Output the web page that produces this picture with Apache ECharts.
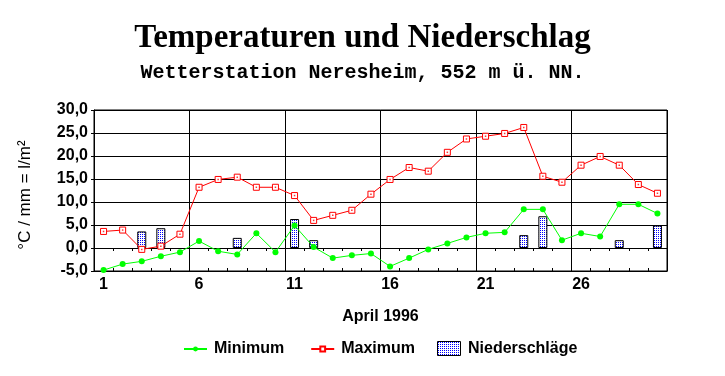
<!DOCTYPE html>
<html>
<head>
<meta charset="utf-8">
<script src="https://cdn.jsdelivr.net/npm/echarts@6/dist/echarts.min.js"></script>
<style>
html,body{margin:0;padding:0;background:#fff;}
#chart{width:725px;height:376px;}
</style>
</head>
<body>
<div id="chart"></div>
<script>
var days = ['1','2','3','4','5','6','7','8','9','10','11','12','13','14','15','16','17','18','19','20','21','22','23','24','25','26','27','28','29','30'];
var minimum = [-4.8, -3.5, -2.9, -1.8, -0.9, 1.5, -0.7, -1.4, 3.2, -0.9, 4.9, 0.2, -2.2, -1.6, -1.2, -4.0, -2.2, -0.3, 1.0, 2.3, 3.2, 3.4, 8.4, 8.4, 1.7, 3.2, 2.5, 9.5, 9.5, 7.5];
var maximum = [3.6, 3.9, -0.3, 0.4, 3.0, 13.2, 14.9, 15.4, 13.2, 13.2, 11.4, 6.0, 7.1, 8.2, 11.7, 14.9, 17.5, 16.7, 20.8, 23.7, 24.3, 24.9, 26.2, 15.6, 14.3, 18.0, 19.9, 18.0, 13.8, 11.9];
var niederschlag = [null, null, 3.6, 4.3, null, null, null, 2.2, null, null, 6.3, 1.7, null, null, null, null, null, null, null, null, null, null, 2.8, 6.9, null, null, null, 1.7, null, 4.9];
var yTicks = {min: -5, max: 30, interval: 5};

var pc = document.createElement('canvas');
pc.width = 2; pc.height = 2;
var pctx = pc.getContext('2d');
pctx.fillStyle = '#ffffff'; pctx.fillRect(0, 0, 2, 2);
pctx.fillStyle = '#0000ff'; pctx.fillRect(0, 0, 1, 1);
var pattern = {image: pc, repeat: 'repeat'};

var font = 'Liberation Sans, Arial, sans-serif';
var chart = echarts.init(document.getElementById('chart'), null, {renderer: 'canvas'});
chart.setOption({
  animation: false,
  backgroundColor: '#ffffff',
  title: [
    {text: 'Temperaturen und Niederschlag', left: 'center', top: 17,
     textStyle: {fontFamily: 'Liberation Serif, Times New Roman, serif', fontWeight: 'bold', fontSize: 33, color: '#000'}},
    {text: 'Wetterstation Neresheim, 552 m ü. NN.', left: 'center', top: 58,
     textStyle: {fontFamily: 'Liberation Mono, Courier New, monospace', fontWeight: 'bold', fontSize: 20, color: '#000'}}
  ],
  grid: {left: 94, right: 58, top: 110, bottom: 105, show: true, borderColor: '#000', borderWidth: 1, backgroundColor: 'transparent'},
  legend: [
    {left: 178, top: 336, itemWidth: 23, itemHeight: 6, itemGap: 26,
     data: ['Minimum', 'Maximum'],
     textStyle: {fontFamily: font, fontWeight: 'bold', fontSize: 16, color: '#000', padding: [0, 0, 0, 2]},
     selectedMode: false}
  ],
  graphic: [
    {type: 'text', x: 380.5, y: 309, style: {text: 'April 1996', fontFamily: font, fontWeight: 'bold', fontSize: 16, fill: '#000', textAlign: 'center'}},
    {type: 'text', x: 17, y: 195, rotation: Math.PI / 2, style: {text: '°C / mm = l/m²', fontFamily: font, fontSize: 17, fill: '#000', textAlign: 'center', textVerticalAlign: 'top'}},
    {type: 'rect', shape: {x: 437.5, y: 341.5, width: 23, height: 14}, style: {fill: pattern, stroke: '#000', lineWidth: 1}},
    {type: 'text', x: 468, y: 348.5, style: {text: 'Niederschläge', fontFamily: font, fontWeight: 'bold', fontSize: 16, fill: '#000', textVerticalAlign: 'middle'}}
  ],
  xAxis: [
    {type: 'category', data: days, boundaryGap: true, position: 'bottom',
     axisLine: {show: true, onZero: false, lineStyle: {color: '#000', width: 1}},
     axisTick: {show: false},
     axisLabel: {interval: 4, margin: 6, fontFamily: font, fontWeight: 'bold', fontSize: 16, color: '#000'},
     splitLine: {show: true, interval: 4, lineStyle: {color: '#000', width: 1}}},
    {type: 'category', data: days, boundaryGap: true, position: 'bottom',
     axisLine: {show: true, onZero: true, lineStyle: {color: '#000', width: 1}},
     axisTick: {show: true, interval: 0, length: 3, inside: false, lineStyle: {color: '#000'}},
     axisLabel: {show: false}, splitLine: {show: false}},
    {type: 'category', data: days, boundaryGap: true, position: 'bottom',
     axisLine: {show: true, onZero: true, lineStyle: {color: '#000', width: 1}},
     axisTick: {show: true, interval: 0, length: 3, inside: true, lineStyle: {color: '#000'}},
     axisLabel: {show: false}, splitLine: {show: false}}
  ],
  yAxis: {
    type: 'value', min: yTicks.min, max: yTicks.max, interval: yTicks.interval,
    axisLine: {show: true, lineStyle: {color: '#000', width: 1}},
    axisTick: {show: true, length: 3, lineStyle: {color: '#000'}},
    axisLabel: {margin: 6, fontFamily: font, fontWeight: 'bold', fontSize: 16, color: '#000',
      formatter: function (v) { return v.toFixed(1).replace('.', ','); }},
    splitLine: {show: true, lineStyle: {color: '#000', width: 1}}
  },
  series: [
    {name: 'Niederschläge', type: 'bar', xAxisIndex: 0, data: niederschlag, barWidth: 9,
     itemStyle: {color: pattern, borderColor: '#000', borderWidth: 1}, emphasis: {disabled: true}, z: 2},
    {name: 'Minimum', type: 'line', xAxisIndex: 0, data: minimum, symbol: 'circle', symbolSize: 6,
     lineStyle: {color: '#00ff00', width: 1}, itemStyle: {color: '#00ff00'}, emphasis: {disabled: true}, z: 3},
    {name: 'Maximum', type: 'line', xAxisIndex: 0, data: maximum, symbol: 'rect', symbolSize: 6,
     lineStyle: {color: '#ff0000', width: 1}, itemStyle: {color: '#ffffff', borderColor: '#ff0000', borderWidth: 1},
     emphasis: {disabled: true}, z: 4},
    {name: 'MaxDot', type: 'scatter', xAxisIndex: 0, data: maximum, symbol: 'rect', symbolSize: 1.5,
     itemStyle: {color: '#ff0000'}, emphasis: {disabled: true}, z: 5, silent: true}
  ]
});
</script>
</body>
</html>
